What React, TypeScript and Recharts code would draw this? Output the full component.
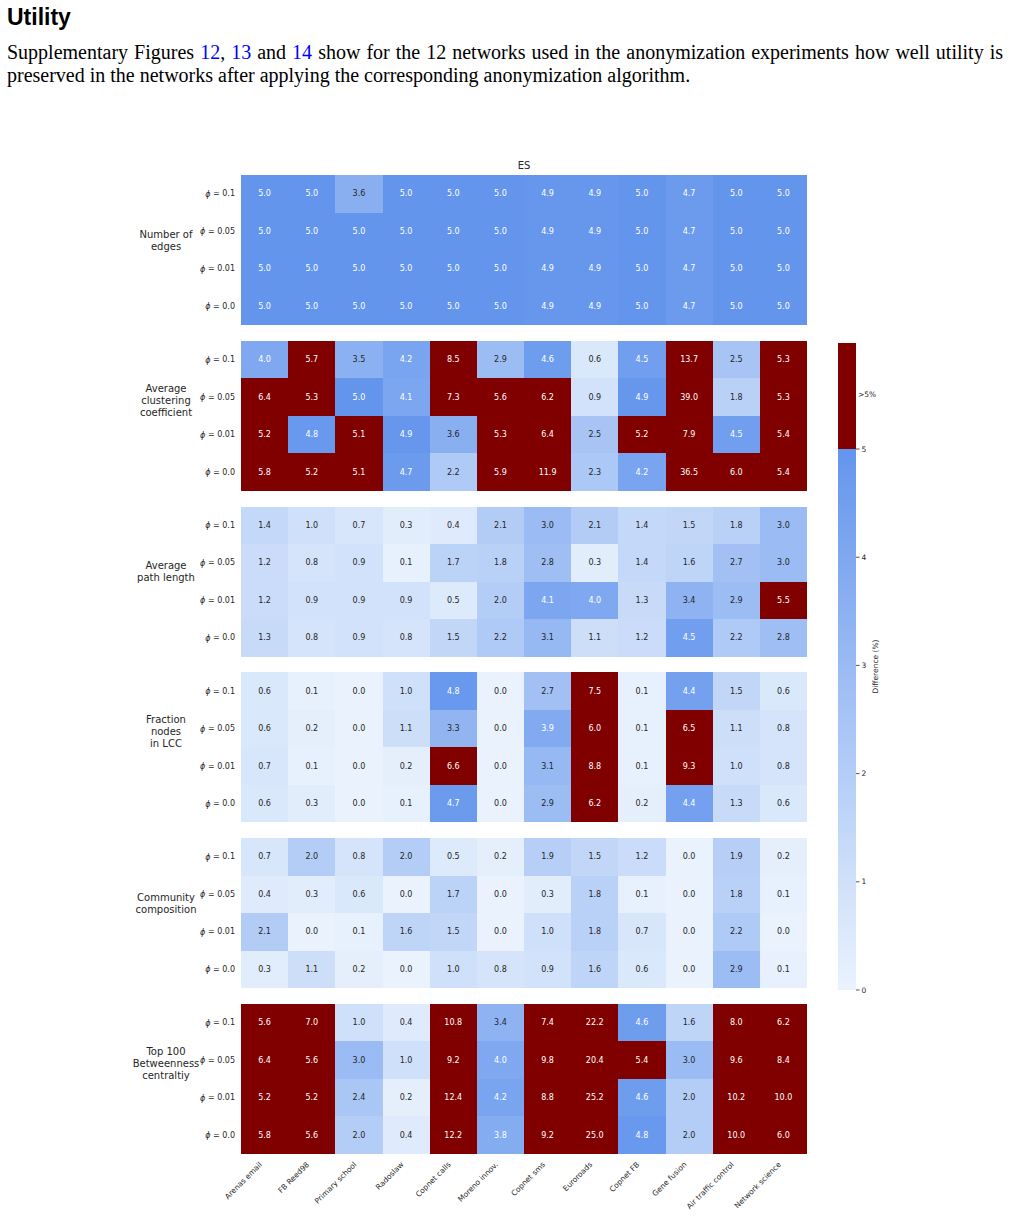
import { ScatterChart, Scatter, XAxis, YAxis, BarChart, Bar } from "recharts";

// network names along the x axis
const NETWORKS = [
  "Arenas email",
  "FB Reed98",
  "Primary school",
  "Radoslaw",
  "Copnet calls",
  "Moreno innov.",
  "Copnet sms",
  "Euroroads",
  "Copnet FB",
  "Gene fusion",
  "Air traffic control",
  "Network science",
];

const PHI = ["0.1", "0.05", "0.01", "0.0"];

const METRICS = [
  ["Number of", "edges"],
  ["Average", "clustering", "coefficient"],
  ["Average", "path length"],
  ["Fraction", "nodes", "in LCC"],
  ["Community", "composition"],
  ["Top 100", "Betweenness", "centraltiy"],
];

// difference (%) per phi row, one column per network
const EDGES = [
  [5.0, 5.0, 3.6, 5.0, 5.0, 5.0, 4.9, 4.9, 5.0, 4.7, 5.0, 5.0],
  [5.0, 5.0, 5.0, 5.0, 5.0, 5.0, 4.9, 4.9, 5.0, 4.7, 5.0, 5.0],
  [5.0, 5.0, 5.0, 5.0, 5.0, 5.0, 4.9, 4.9, 5.0, 4.7, 5.0, 5.0],
  [5.0, 5.0, 5.0, 5.0, 5.0, 5.0, 4.9, 4.9, 5.0, 4.7, 5.0, 5.0],
];

const CLUSTERING = [
  [4.0, 5.7, 3.5, 4.2, 8.5, 2.9, 4.6, 0.6, 4.5, 13.7, 2.5, 5.3],
  [6.4, 5.3, 5.0, 4.1, 7.3, 5.6, 6.2, 0.9, 4.9, 39.0, 1.8, 5.3],
  [5.2, 4.8, 5.1, 4.9, 3.6, 5.3, 6.4, 2.5, 5.2, 7.9, 4.5, 5.4],
  [5.8, 5.2, 5.1, 4.7, 2.2, 5.9, 11.9, 2.3, 4.2, 36.5, 6.0, 5.4],
];

const PATH_LENGTH = [
  [1.4, 1.0, 0.7, 0.3, 0.4, 2.1, 3.0, 2.1, 1.4, 1.5, 1.8, 3.0],
  [1.2, 0.8, 0.9, 0.1, 1.7, 1.8, 2.8, 0.3, 1.4, 1.6, 2.7, 3.0],
  [1.2, 0.9, 0.9, 0.9, 0.5, 2.0, 4.1, 4.0, 1.3, 3.4, 2.9, 5.5],
  [1.3, 0.8, 0.9, 0.8, 1.5, 2.2, 3.1, 1.1, 1.2, 4.5, 2.2, 2.8],
];

const LCC_FRACTION = [
  [0.6, 0.1, 0.0, 1.0, 4.8, 0.0, 2.7, 7.5, 0.1, 4.4, 1.5, 0.6],
  [0.6, 0.2, 0.0, 1.1, 3.3, 0.0, 3.9, 6.0, 0.1, 6.5, 1.1, 0.8],
  [0.7, 0.1, 0.0, 0.2, 6.6, 0.0, 3.1, 8.8, 0.1, 9.3, 1.0, 0.8],
  [0.6, 0.3, 0.0, 0.1, 4.7, 0.0, 2.9, 6.2, 0.2, 4.4, 1.3, 0.6],
];

const COMMUNITY = [
  [0.7, 2.0, 0.8, 2.0, 0.5, 0.2, 1.9, 1.5, 1.2, 0.0, 1.9, 0.2],
  [0.4, 0.3, 0.6, 0.0, 1.7, 0.0, 0.3, 1.8, 0.1, 0.0, 1.8, 0.1],
  [2.1, 0.0, 0.1, 1.6, 1.5, 0.0, 1.0, 1.8, 0.7, 0.0, 2.2, 0.0],
  [0.3, 1.1, 0.2, 0.0, 1.0, 0.8, 0.9, 1.6, 0.6, 0.0, 2.9, 0.1],
];

const BETWEENNESS = [
  [5.6, 7.0, 1.0, 0.4, 10.8, 3.4, 7.4, 22.2, 4.6, 1.6, 8.0, 6.2],
  [6.4, 5.6, 3.0, 1.0, 9.2, 4.0, 9.8, 20.4, 5.4, 3.0, 9.6, 8.4],
  [5.2, 5.2, 2.4, 0.2, 12.4, 4.2, 8.8, 25.2, 4.6, 2.0, 10.2, 10.0],
  [5.8, 5.6, 2.0, 0.4, 12.2, 3.8, 9.2, 25.0, 4.8, 2.0, 10.0, 6.0],
];

const PANELS = [EDGES, CLUSTERING, PATH_LENGTH, LCC_FRACTION, COMMUNITY, BETWEENNESS];

const THRESHOLD = 5;
const CB_MAX = 5.98;
const CB_TICKS = [0, 1, 2, 3, 4, 5];

// colour map: light blue -> cornflower up to the threshold, dark red above
const LOW = [234, 243, 253];
const HIGH = [100, 149, 237];
const OVER = "#800000";
const FONT = "'DejaVu Sans', sans-serif";
const INK = "#262626";

const GAP = 0.42;
const SPAN = PHI.length + GAP;
const Y_MAX = PANELS.length * PHI.length + (PANELS.length - 1) * GAP;

const PLOT_LEFT = 241;
const PLOT_TOP = 25;
const PLOT_W = 566;
const PLOT_H = 979;
const CELL_W = PLOT_W / NETWORKS.length;
const CELL_H = PLOT_H / Y_MAX;

const mix = (v: number) => {
  const t = Math.max(0, Math.min(1, v / THRESHOLD));
  return LOW.map((c, i) => Math.round(c + (HIGH[i] - c) * t));
};

const colorFor = (v: number) => {
  if (v > THRESHOLD) return OVER;
  const [r, g, b] = mix(v);
  return `rgb(${r},${g},${b})`;
};

// same rule seaborn uses for annotation colour
const textFor = (v: number) => {
  if (v > THRESHOLD) return "#ffffff";
  const lin = mix(v).map((c) => {
    const s = c / 255;
    return s <= 0.03928 ? s / 12.92 : Math.pow((s + 0.055) / 1.055, 2.4);
  });
  const lum = 0.2126 * lin[0] + 0.7152 * lin[1] + 0.0722 * lin[2];
  return lum > 0.408 ? INK : "#ffffff";
};

const cells = PANELS.flatMap((rows, p) =>
  rows.flatMap((vals, r) =>
    vals.map((v, c) => ({ x: c + 0.5, y: p * SPAN + r + 0.5, v }))
  )
);

const rowTicks = PANELS.flatMap((_, p) => PHI.map((_, r) => p * SPAN + r + 0.5));
const colTicks = NETWORKS.map((_, i) => i + 0.5);

const HeatCell = (props: any) => {
  const { cx, cy, payload } = props;
  const v = payload.v as number;
  return (
    <g>
      <rect
        x={cx - CELL_W / 2}
        y={cy - CELL_H / 2}
        width={CELL_W}
        height={CELL_H}
        fill={colorFor(v)}
        shapeRendering="crispEdges"
      />
      <text
        x={cx}
        y={cy}
        textAnchor="middle"
        dominantBaseline="central"
        fontSize={8}
        fontFamily={FONT}
        fill={textFor(v)}
      >
        {v.toFixed(1)}
      </text>
    </g>
  );
};

const RowTick = (props: any) => {
  const { y, payload } = props;
  const idx = rowTicks.findIndex((t) => Math.abs(t - payload.value) < 1e-6);
  if (idx < 0) return null;
  const panel = Math.floor(idx / PHI.length);
  const row = idx % PHI.length;
  const lines = METRICS[panel];
  return (
    <g fontFamily={FONT} fill={INK}>
      <text x={PLOT_LEFT - 6} y={y} textAnchor="end" dominantBaseline="central" fontSize={8}>
        <tspan fontStyle="italic">ϕ</tspan>
        {` = ${PHI[row]}`}
      </text>
      {row === 1 &&
        lines.map((line, i) => (
          <text
            key={line}
            x={166}
            y={y + 15 - 12 * (lines.length - 1 - i)}
            textAnchor="middle"
            dominantBaseline="central"
            fontSize={10}
          >
            {line}
          </text>
        ))}
    </g>
  );
};

const NetworkTick = (props: any) => {
  const { x, payload } = props;
  const idx = colTicks.findIndex((t) => Math.abs(t - payload.value) < 1e-6);
  const px = x - 2;
  const py = PLOT_TOP + PLOT_H + 11;
  return (
    <text
      x={px}
      y={py}
      transform={`rotate(-45, ${px}, ${py})`}
      textAnchor="end"
      fontSize={7.5}
      fontFamily={FONT}
      fill={INK}
    >
      {NETWORKS[idx]}
    </text>
  );
};

const CB_LEFT = 8;
const CB_W = 18;
const cbData = [{ name: "scale", below: THRESHOLD, above: CB_MAX - THRESHOLD }];

const ScaleTick = (props: any) => {
  const { y, payload } = props;
  const edge = CB_LEFT + CB_W;
  if (payload.value > THRESHOLD) {
    return (
      <text x={edge + 2} y={y} dominantBaseline="central" fontSize={7.5} fontFamily={FONT} fill={INK}>
        {">5%"}
      </text>
    );
  }
  return (
    <g>
      <line x1={edge} x2={edge + 3.5} y1={y} y2={y} stroke={INK} strokeWidth={0.8} />
      <text x={edge + 5.5} y={y} dominantBaseline="central" fontSize={7.5} fontFamily={FONT} fill={INK}>
        {payload.value}
      </text>
    </g>
  );
};

export default function App() {
  return (
    <div style={{ position: "absolute", left: 0, top: 0, width: 1009, height: 1217, background: "#fff" }}>
      <div
        style={{
          position: "absolute",
          left: 7,
          top: 5,
          fontFamily: "'Liberation Sans', Arial, sans-serif",
          fontWeight: 700,
          fontSize: 23,
          lineHeight: "24px",
          color: "#000",
        }}
      >
        Utility
      </div>
      <div
        style={{
          position: "absolute",
          left: 7,
          top: 41,
          width: 996,
          fontFamily: "'Liberation Serif', 'Times New Roman', serif",
          fontSize: 20,
          lineHeight: "22.5px",
          color: "#000",
        }}
      >
        <div style={{ textAlign: "justify", textAlignLast: "justify", whiteSpace: "nowrap" }}>
          Supplementary Figures <span style={{ color: "#0000ff" }}>12</span>,{" "}
          <span style={{ color: "#0000ff" }}>13</span> and <span style={{ color: "#0000ff" }}>14</span> show
          for the 12 networks used in the anonymization experiments how well utility is
        </div>
        <div>preserved in the networks after applying the corresponding anonymization algorithm.</div>
      </div>

      <div
        style={{
          position: "absolute",
          left: PLOT_LEFT,
          width: PLOT_W,
          top: 160,
          textAlign: "center",
          fontFamily: FONT,
          fontSize: 10,
          color: INK,
        }}
      >
        ES
      </div>

      <div style={{ position: "absolute", left: 0, top: 150 }}>
        <ScatterChart
          width={830}
          height={PLOT_TOP + PLOT_H + 58}
          margin={{ top: PLOT_TOP, right: 830 - PLOT_LEFT - PLOT_W, bottom: 0, left: 0 }}
        >
          <XAxis
            type="number"
            dataKey="x"
            domain={[0, NETWORKS.length]}
            ticks={colTicks}
            interval={0}
            height={58}
            axisLine={false}
            tickLine={false}
            tick={<NetworkTick />}
          />
          <YAxis
            type="number"
            dataKey="y"
            domain={[0, Y_MAX]}
            reversed
            ticks={rowTicks}
            interval={0}
            width={PLOT_LEFT}
            axisLine={false}
            tickLine={false}
            tick={<RowTick />}
          />
          <Scatter data={cells} shape={<HeatCell />} isAnimationActive={false} />
        </ScatterChart>
      </div>

      <div style={{ position: "absolute", left: 830, top: 330 }}>
        <BarChart
          width={CB_LEFT + CB_W + 38}
          height={680}
          data={cbData}
          margin={{ top: 13, right: 0, bottom: 20, left: CB_LEFT }}
          barCategoryGap={0}
        >
          <defs>
            <linearGradient id="cbGrad" x1="0" y1="1" x2="0" y2="0">
              <stop offset="0" stopColor={`rgb(${LOW.join(",")})`} />
              <stop offset="1" stopColor={`rgb(${HIGH.join(",")})`} />
            </linearGradient>
          </defs>
          <XAxis dataKey="name" type="category" hide />
          <YAxis
            orientation="right"
            type="number"
            domain={[0, CB_MAX]}
            ticks={[...CB_TICKS, 5.5]}
            interval={0}
            width={38}
            axisLine={false}
            tickLine={false}
            tick={<ScaleTick />}
            label={{
              value: "Difference (%)",
              angle: -90,
              position: "center",
              fontSize: 7.5,
              fill: INK,
              fontFamily: FONT,
            }}
          />
          <Bar dataKey="below" stackId="cb" fill="url(#cbGrad)" isAnimationActive={false} />
          <Bar dataKey="above" stackId="cb" fill={OVER} isAnimationActive={false} />
        </BarChart>
      </div>
    </div>
  );
}
